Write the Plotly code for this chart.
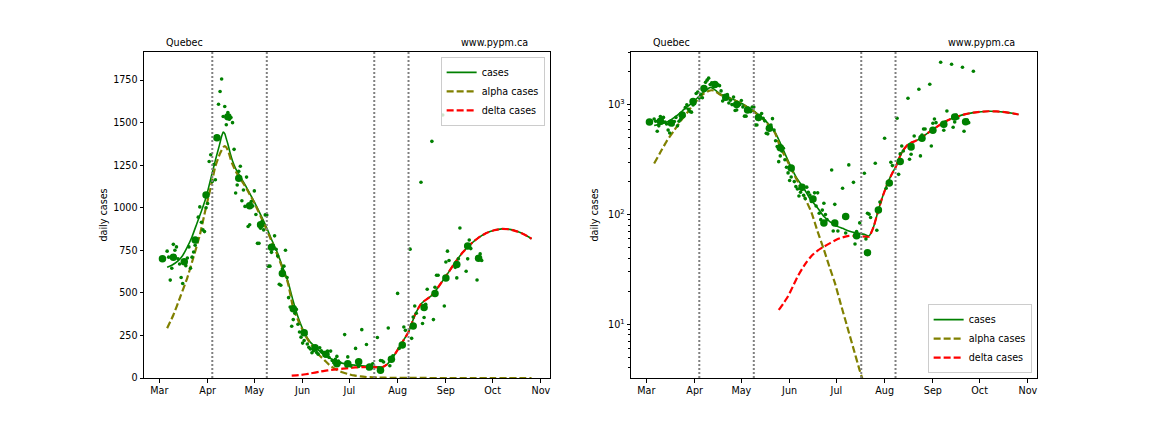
import pandas as pd
import plotly.graph_objects as go

BASE = "2021-03-01"  # day 0 of the day offsets below

# ---- daily reported cases (day offset since 2021-03-01, value) ----
daily_day = [5, 6, 7, 8, 9,
             10, 11, 12, 13, 14, 15, 16,
             17, 18, 19, 20, 21, 22, 23,
             24, 25, 26, 27, 28, 29, 30,
             31, 32, 33, 34, 35, 36, 37,
             38, 39, 40, 41, 42, 43, 44,
             45, 46, 47, 48, 49, 50, 51,
             52, 53, 54, 55, 56, 57, 58,
             59, 60, 61, 62, 63, 64, 65,
             66, 67, 68, 69, 70, 71, 72,
             73, 74, 75, 76, 77, 78, 79,
             80, 81, 82, 83, 84, 85, 86,
             87, 88, 89, 90, 91, 92, 93,
             94, 95, 96, 97, 98, 99, 100,
             101, 102, 103, 104, 105, 106, 107,
             108, 109, 110, 111, 112, 113, 114,
             115, 116,
             119, 120, 121, 122, 123,
             126, 127, 128, 130,
             133, 134, 135, 137,
             140, 141, 142, 143, 144,
             147, 148, 149, 150,
             153, 154, 155, 157, 158,
             161, 162, 163, 164, 165,
             168, 169, 170, 171, 172,
             175, 176, 177, 178, 179,
             182, 183, 184, 185, 186,
             189, 190, 191, 192, 193,
             196, 197, 198, 199, 200,
             203, 204, 205, 206, 207,
             210]
daily_cases = [745, 710, 575, 645, 785,
               750, 770, 700, 670, 590, 555, 680,
               660, 705, 770, 645, 710, 740, 780,
               800, 945, 1005, 915, 870, 860, 1000,
               1025, 1272, 1311, 1155, 1254, 1165, 1420,
               1608, 1683, 1756, 1536, 1595, 1488, 1559,
               1520, 1530, 1500, 1343, 1087, 1134, 1214,
               1244, 1041, 1104, 1008, 1180, 890, 900,
               1037, 1010, 1099, 960, 791, 791, 880,
               920, 870, 958, 957, 657, 657, 738,
               780, 835, 756, 716, 551, 545, 640,
               657, 750, 590, 472, 417, 304, 343,
               380, 403, 316, 270, 240, 205, 220,
               255, 200, 180, 171, 148, 160, 175,
               150, 140, 178, 160, 151, 132, 140,
               158, 120, 158, 103, 90, 110, 127,
               100, 90,
               255, 71, 124, 80, 71,
               174, 95, 68, 284,
               197, 54, 70, 84,
               238, 60, 103, 101, 94,
               294, 72, 110, 130,
               497, 174, 193, 300, 280,
               757, 233, 358, 423, 380,
               1150, 320, 355, 433, 521,
               1390, 343, 533, 604, 604,
               1545, 423, 681, 745, 690,
               2450, 650, 588, 700, 881,
               2350, 627, 700, 811, 760,
               2210, 576, 700, 729, 690,
               2030]

# ---- weekly averaged cases (large dots) ----
weekly_day = [2, 9, 16, 23, 30, 37, 44, 51, 58, 65, 72, 79, 86, 93, 100,
              107, 114, 121, 128, 135, 142, 149, 156, 163, 170, 177, 184,
              191, 198, 205]
weekly_cases = [700, 709, 683, 811, 1075, 1412, 1534, 1173, 1012, 900, 768,
                614, 407, 266, 178, 139, 84, 84, 96, 64, 45, 110, 194, 305,
                414, 497, 588, 666, 775, 704]

# ---- model curves ----
cases_day = [5, 8, 12, 15, 18, 21, 24, 27, 30, 33,
             36, 38.5, 40, 41, 42, 43, 44, 45.5, 47, 49,
             51.5, 55, 58, 61, 65, 68.6, 72, 76, 79, 82.5,
             85.7, 89, 93, 97, 101, 105, 110, 114, 118, 122,
             126, 130, 135, 140, 143, 146, 149, 152, 155, 158,
             160, 162, 164, 166, 168, 170, 172, 174, 176, 178,
             182, 186, 190, 195, 200, 205, 210, 215, 220, 225,
             230, 235, 239]
cases_model = [650, 662, 688, 720, 770, 830, 905, 980, 1060, 1170,
               1280, 1365, 1420, 1445, 1435, 1405, 1375, 1320, 1275, 1230,
               1190, 1136, 1085, 1035, 960, 890, 815, 732, 655, 570,
               460, 360, 270, 210, 175, 140, 115, 96, 86, 79,
               75, 71, 68, 66, 64, 78, 110, 150, 195, 240,
               270, 318, 368, 405, 435, 452, 465, 478, 495, 520,
               572, 625, 680, 740, 787, 825, 852, 868, 876, 873,
               860, 840, 818]

alpha_day = [5, 9, 13.5, 18, 22, 26, 29.6, 33, 36, 39,
             41, 42, 43, 44.5, 46.5, 49, 51.5, 55, 61, 68.6,
             76, 82.5, 86, 90, 94, 98, 102, 106, 110, 114,
             118, 121, 125, 129, 133, 137, 140, 145, 150, 160,
             170, 185, 200, 215, 239]
alpha_model = [292, 370, 478, 590, 712, 840, 988, 1120, 1244, 1320,
               1355, 1362, 1355, 1325, 1265, 1215, 1178, 1128, 1028, 878,
               718, 560, 410, 320, 245, 190, 140, 105, 70, 48,
               32, 24, 15, 9.5, 6, 3.8, 2.8, 1.7, 1.0, 0.4,
               0.15, 0.04, 0.01, 0.003, 0.0005]

delta_day = [85, 88, 91, 94, 97, 100, 103, 106, 110, 114,
             118, 122, 126, 130, 135, 140, 143, 146, 149, 152,
             155, 158, 160, 162, 164, 166, 168, 170, 172, 174,
             176, 178, 182, 186, 190, 195, 200, 205, 210, 215,
             220, 225, 230, 235, 239]
delta_model = [13.5, 15.5, 18, 22, 27, 32, 37, 42, 47, 51,
               55, 59, 62, 64, 64, 63, 63, 78, 110, 150,
               195, 240, 270, 318, 368, 405, 435, 452, 465, 478,
               495, 520, 572, 625, 680, 740, 787, 825, 852, 868,
               876, 873, 860, 840, 818]

# ---- vertical markers and ticks ----
vline_day = [34, 69, 138, 160]
month_ticks = ["2021-03-01", "2021-04-01", "2021-05-01", "2021-06-01",
               "2021-07-01", "2021-08-01", "2021-09-01", "2021-10-01",
               "2021-11-01"]
month_labels = ["Mar", "Apr", "May", "Jun", "Jul", "Aug", "Sep", "Oct", "Nov"]
lin_ticks = [0, 250, 500, 750, 1000, 1250, 1500, 1750]
log_ticks = [10, 100, 1000]
log_labels = ["10<sup>1</sup>", "10<sup>2</sup>", "10<sup>3</sup>"]
log_minor = [4, 5, 6, 7, 8, 9, 20, 30, 40, 50, 60, 70, 80, 90,
             200, 300, 400, 500, 600, 700, 800, 900, 2000, 3000]

base = pd.Timestamp(BASE)


def to_dates(days):
    return [base + pd.Timedelta(days=float(d)) for d in days]


GREEN = "#008000"
OLIVE = "#808000"
RED = "#ff0000"
FONT = "DejaVu Sans"
FS = 9.6

fig = go.Figure()

for i, (xa, ya, leg) in enumerate([("x", "y", "legend"), ("x2", "y2", "legend2")]):
    fig.add_trace(go.Scatter(x=to_dates(cases_day), y=cases_model, mode="lines",
                             line=dict(color=GREEN, width=1.6, shape="spline", smoothing=0.5),
                             name="cases", xaxis=xa, yaxis=ya, legend=leg))
    fig.add_trace(go.Scatter(x=to_dates(alpha_day), y=alpha_model, mode="lines",
                             line=dict(color=OLIVE, width=2.2, dash="7px,3px",
                                       shape="spline", smoothing=0.5),
                             name="alpha cases", xaxis=xa, yaxis=ya, legend=leg))
    fig.add_trace(go.Scatter(x=to_dates(delta_day), y=delta_model, mode="lines",
                             line=dict(color=RED, width=2.2, dash="7px,3px",
                                       shape="spline", smoothing=0.5),
                             name="delta cases", xaxis=xa, yaxis=ya, legend=leg))
    fig.add_trace(go.Scatter(x=to_dates(daily_day), y=daily_cases, mode="markers",
                             marker=dict(color=GREEN, size=3.6),
                             showlegend=False, xaxis=xa, yaxis=ya, cliponaxis=True))
    fig.add_trace(go.Scatter(x=to_dates(weekly_day), y=weekly_cases, mode="markers",
                             marker=dict(color=GREEN, size=7.5),
                             showlegend=False, xaxis=xa, yaxis=ya, cliponaxis=True))

# vertical dotted lines
for xa, ya in [("x", "y"), ("x2", "y2")]:
    for d in vline_day:
        dt = base + pd.Timedelta(days=d)
        fig.add_shape(type="line", xref=xa, yref=f"{ya} domain", x0=dt, x1=dt,
                      y0=0, y1=1, line=dict(color="#808080", width=2, dash="2px,2px"),
                      layer="above")

# text above plots
for xa, ya in [("x", "y"), ("x2", "y2")]:
    fig.add_annotation(text="Quebec", xref=f"{xa} domain", yref=f"{ya} domain",
                       x=0.05, y=1.0, xanchor="left", yanchor="bottom", yshift=2,
                       showarrow=False, font=dict(family=FONT, size=FS, color="black"))
    fig.add_annotation(text="www.pypm.ca", xref=f"{xa} domain", yref=f"{ya} domain",
                       x=0.95, y=1.0, xanchor="right", yanchor="bottom", yshift=2,
                       showarrow=False, font=dict(family=FONT, size=FS, color="black"))

x_range = [base + pd.Timedelta(days=-9.85), base + pd.Timedelta(days=250.85)]

axis_common = dict(showline=True, linecolor="black", linewidth=1, mirror=True,
                   ticks="outside", ticklen=3.5, tickwidth=0.8, tickcolor="black",
                   showgrid=False, zeroline=False,
                   tickfont=dict(family=FONT, size=FS, color="black"))

# the page places the figure 8px in from the top-left corner,
# so margins are offset to keep the plot areas where the reference has them
W_PLOT = 893.0
LEFT_DOM = 406 / W_PLOT
fig.update_layout(
    width=1152, height=432,
    margin=dict(l=136, r=123, t=44, b=62),
    paper_bgcolor="white", plot_bgcolor="white",
    font=dict(family=FONT, size=FS, color="black"),
    xaxis=dict(domain=[0, LEFT_DOM], range=x_range, tickvals=month_ticks,
               ticktext=month_labels, anchor="y", **axis_common),
    yaxis=dict(domain=[0, 1], range=[0, 1915], tickvals=lin_ticks, anchor="x",
               title=dict(text="daily cases", standoff=3,
                          font=dict(family=FONT, size=FS, color="black")),
               **axis_common),
    xaxis2=dict(domain=[487 / W_PLOT, 1], range=x_range, tickvals=month_ticks,
                ticktext=month_labels, anchor="y2", **axis_common),
    yaxis2=dict(domain=[0, 1], type="log", range=[0.51, 3.483], tickvals=log_ticks,
                ticktext=log_labels, anchor="x2",
                minor=dict(tickvals=log_minor, ticks="outside", ticklen=2,
                           tickwidth=0.6, tickcolor="black", showgrid=False),
                title=dict(text="daily cases", standoff=7,
                           font=dict(family=FONT, size=FS, color="black")),
                **axis_common),
    legend=dict(x=LEFT_DOM - 0.006, y=0.985, xanchor="right", yanchor="top",
                bgcolor="rgba(255,255,255,0.8)", bordercolor="#cccccc", borderwidth=1,
                font=dict(family=FONT, size=FS, color="black"),
                tracegroupgap=0, itemwidth=30),
    legend2=dict(x=0.994, y=0.015, xanchor="right", yanchor="bottom",
                 bgcolor="rgba(255,255,255,0.8)", bordercolor="#cccccc", borderwidth=1,
                 font=dict(family=FONT, size=FS, color="black"),
                 tracegroupgap=0, itemwidth=30),
    showlegend=True,
)

fig.write_html("out.html")
